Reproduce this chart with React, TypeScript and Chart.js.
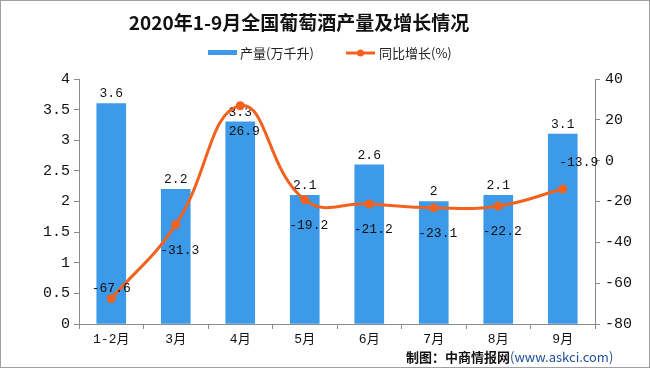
import React, { useEffect, useRef } from "react";
import { Chart, registerables } from "chart.js";

Chart.register(...registerables);

const categories = ["1-2月", "3月", "4月", "5月", "6月", "7月", "8月", "9月"];
const output = [3.6, 2.2, 3.3, 2.1, 2.6, 2, 2.1, 3.1];
const growth = [-67.6, -31.3, 26.9, -19.2, -21.2, -23.1, -22.2, -13.9];
const titleText = "2020年1-9月全国葡萄酒产量及增长情况";
const seriesNames = ["产量(万千升)", "同比增长(%)"];
const sourceLabel = "制图：中商情报网";
const sourceUrl = "(www.askci.com)";
// label placement for growth labels
const growthLabelPlace = ["above", "below", "below", "below", "below", "below", "below", "aboveRight"];

const BAR = "#3d9ae9";
const LINE = "#f2621f";
const MONO = "'Liberation Mono', 'DejaVu Sans Mono', monospace";
const CJK = "'Liberation Mono', 'Noto Sans CJK SC', sans-serif";

const decorPlugin = {
  id: "decor",
  beforeDatasetsDraw(chart: any) {
    const ctx = chart.ctx;
    const meta = chart.getDatasetMeta(0);
    ctx.save();
    ctx.font = `13px ${MONO}`;
    ctx.fillStyle = "#111";
    ctx.textAlign = "center";
    ctx.textBaseline = "bottom";
    meta.data.forEach((el: any, i: number) => {
      ctx.fillText(String(output[i]), el.x, el.y - 3);
    });
    ctx.restore();
  },
  afterDatasetsDraw(chart: any) {
    const ctx = chart.ctx;
    const meta = chart.getDatasetMeta(1);
    ctx.save();
    ctx.font = `13px ${MONO}`;
    ctx.fillStyle = "#111";
    ctx.textAlign = "center";
    ctx.textBaseline = "middle";
    meta.data.forEach((el: any, i: number) => {
      const p = growthLabelPlace[i];
      let x = el.x, y = el.y;
      if (p === "above") { y -= 10; }
      else if (p === "below") { y += 26; x += 4; }
      else { y -= 26; x += 16; }
      ctx.fillText(String(growth[i]), x, y);
    });
    ctx.restore();
  },
  afterDraw(chart: any) {
    const ctx = chart.ctx;
    ctx.save();
    // title
    ctx.font = `bold 19px 'Noto Sans CJK SC', serif`;
    ctx.fillStyle = "#111";
    ctx.textAlign = "center";
    ctx.textBaseline = "middle";
    ctx.fillText(titleText, 298, 22);
    // legend
    ctx.font = `13px 'Noto Sans CJK SC', sans-serif`;
    ctx.textAlign = "left";
    ctx.fillStyle = BAR;
    ctx.fillRect(207, 49, 29, 5);
    ctx.fillStyle = "#222";
    ctx.fillText(seriesNames[0], 239, 52);
    ctx.strokeStyle = LINE;
    ctx.lineWidth = 3;
    ctx.beginPath();
    ctx.moveTo(345, 52);
    ctx.lineTo(374, 52);
    ctx.stroke();
    ctx.fillStyle = LINE;
    ctx.beginPath();
    ctx.arc(359.5, 52, 3.5, 0, Math.PI * 2);
    ctx.fill();
    ctx.fillStyle = "#222";
    ctx.fillText(seriesNames[1], 378, 52);
    // source
    ctx.font = `bold 13px 'Noto Sans CJK SC', sans-serif`;
    ctx.fillStyle = "#111";
    ctx.fillText(sourceLabel, 405, 356);
    const w = ctx.measureText(sourceLabel).width;
    ctx.font = `13px 'Noto Sans CJK SC', sans-serif`;
    ctx.fillStyle = "#1d4f9a";
    ctx.fillText(sourceUrl, 405 + w, 356);
    ctx.restore();
  },
};

export default function App() {
  const ref = useRef<HTMLCanvasElement>(null);
  useEffect(() => {
    document.body.style.margin = "0";
    const chart = new Chart(ref.current!, {
      type: "bar",
      data: {
        labels: categories,
        datasets: [
          {
            type: "bar",
            label: seriesNames[0],
            data: output,
            backgroundColor: BAR,
            barThickness: 29,
            yAxisID: "y",
            order: 2,
          },
          {
            type: "line",
            label: seriesNames[1],
            data: growth,
            borderColor: LINE,
            backgroundColor: LINE,
            borderWidth: 3,
            pointRadius: 4.5,
            pointBackgroundColor: LINE,
            pointBorderWidth: 0,
            tension: 0.45,
            yAxisID: "y1",
            order: 1,
          } as any,
        ],
      },
      options: {
        responsive: false,
        animation: false,
        layout: { padding: { top: 78, left: 0, right: 0, bottom: 0 } },
        plugins: { legend: { display: false }, title: { display: false }, tooltip: { enabled: false } },
        scales: {
          x: {
            offset: true,
            grid: { offset: true, drawOnChartArea: false, drawTicks: true, tickLength: 5, color: "#8a8a8a" },
            border: { color: "#8a8a8a" },
            ticks: { font: { size: 13, family: CJK }, color: "#111", padding: 3, maxRotation: 0 },
            afterFit: (s: any) => { s.height = 43; },
          },
          y: {
            position: "left",
            min: 0,
            max: 4,
            grid: { drawOnChartArea: false, tickLength: 5, color: "#8a8a8a" },
            border: { color: "#8a8a8a" },
            ticks: {
              stepSize: 0.5,
              font: { size: 15, family: MONO },
              color: "#111",
              padding: 4,
              callback: (v: any) => String(Math.round(Number(v) * 10) / 10),
            },
            afterFit: (s: any) => { s.width = 78; },
          },
          y1: {
            position: "right",
            min: -80,
            max: 40,
            grid: { drawOnChartArea: false, tickLength: 5, color: "#8a8a8a" },
            border: { color: "#8a8a8a" },
            ticks: { stepSize: 20, font: { size: 15, family: MONO }, color: "#111", padding: 5 },
            afterFit: (s: any) => { s.width = 54; },
          },
        },
      },
      plugins: [decorPlugin],
    });
    return () => chart.destroy();
  }, []);
  return (
    <div style={{ position: "relative", width: 650, height: 368, boxSizing: "border-box", border: "1px solid #a0a0a0", overflow: "hidden" }}>
      <canvas ref={ref} width={648} height={366} style={{ display: "block" }} />
    </div>
  );
}
